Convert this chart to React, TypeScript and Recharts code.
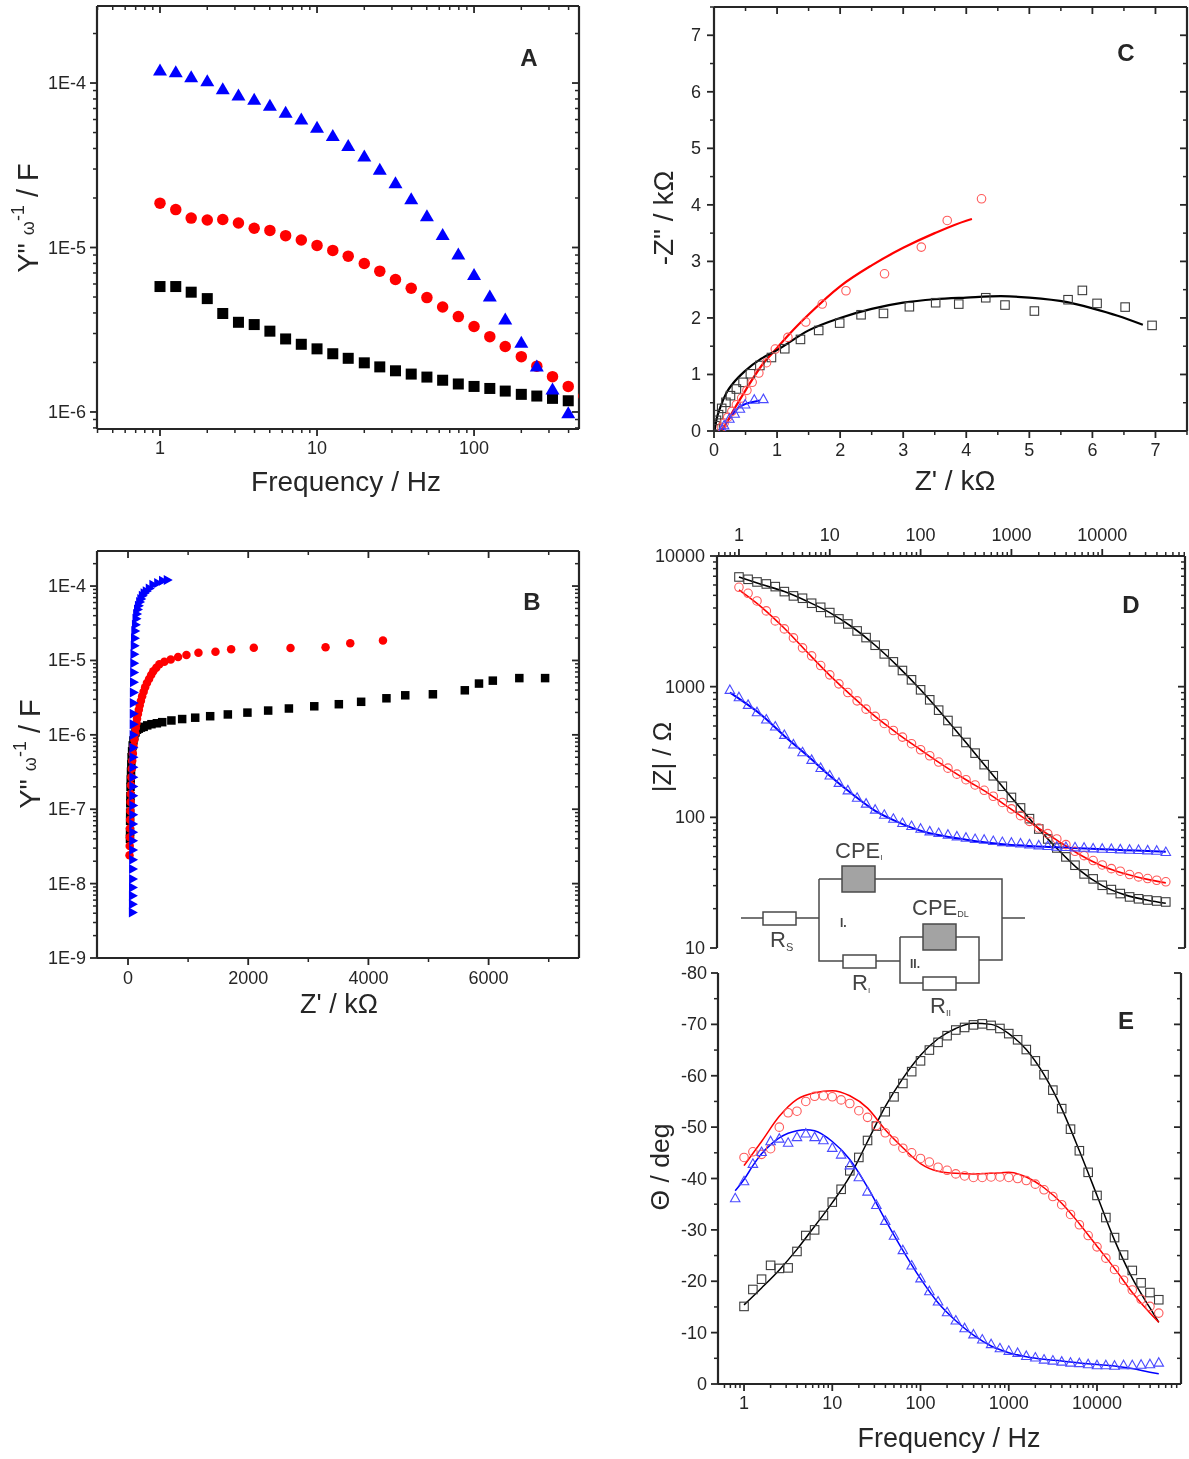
import React from 'react';
import { ComposedChart, Scatter, Line, XAxis, YAxis } from 'recharts';

const FONT = '"Liberation Sans", Arial, sans-serif';
const INK = '#262626';
const BLUE = '#0000ff';
const RED = '#ff0000';
const OPEN_BLACK = '#3c3c3c';
const OPEN_RED = '#ff5a5a';
const OPEN_BLUE = '#4a4aff';

// frequency grids (Hz)
const freqs = [1, 1.26, 1.58, 2, 2.51, 3.16, 3.98, 5.01, 6.31, 7.94, 10, 12.6, 15.8, 20, 25.1, 31.6, 39.8, 50.1, 63.1, 79.4, 100, 126, 158, 200, 251, 316, 398, 501, 631, 794, 1000, 1260, 1580, 2000, 2510, 3160, 3980, 5010, 6310, 7940, 10000, 12600, 15800, 20000, 25100, 31600, 39800, 50100];
const blueLeadFreq = [0.794];
const fitFreqD = [1, 1.78, 3.16, 5.62, 10, 17.8, 31.6, 56.2, 100, 178, 316, 562, 1000, 1780, 3160, 5620, 10000, 17800, 31600, 50100];
const fitFreqE = [1, 1.58, 2.51, 3.98, 6.31, 10, 15.8, 25.1, 39.8, 63.1, 100, 158, 251, 398, 631, 1000, 1580, 2510, 3980, 6310, 10000, 15800, 25100, 39800, 50100];
const fitFreqEBlue = [0.794, 1, 1.26, 1.58, 2, 2.51, 3.16, 3.98, 5.01, 6.31, 10, 15.8, 25.1, 39.8, 63.1, 100, 158, 251, 398, 631, 1000, 1580, 2510, 3980, 6310, 10000, 15800, 25100, 39800, 50100];

// Panel A: Y''/omega versus frequency
const aBlackY = [5.79e-6, 5.79e-6, 5.35e-6, 4.89e-6, 3.97e-6, 3.51e-6, 3.4e-6, 3.1e-6, 2.78e-6, 2.58e-6, 2.42e-6, 2.26e-6, 2.12e-6, 1.99e-6, 1.88e-6, 1.78e-6, 1.7e-6, 1.63e-6, 1.56e-6, 1.48e-6, 1.43e-6, 1.39e-6, 1.34e-6, 1.28e-6, 1.25e-6, 1.21e-6, 1.17e-6];
const aRedY = [1.86e-5, 1.7e-5, 1.51e-5, 1.47e-5, 1.48e-5, 1.41e-5, 1.31e-5, 1.27e-5, 1.18e-5, 1.11e-5, 1.03e-5, 9.6e-6, 8.86e-6, 7.99e-6, 7.18e-6, 6.39e-6, 5.65e-6, 4.96e-6, 4.35e-6, 3.8e-6, 3.31e-6, 2.87e-6, 2.5e-6, 2.17e-6, 1.9e-6, 1.64e-6, 1.43e-6, 1.25e-6];
const aBlueY = [1.21e-4, 1.18e-4, 1.1e-4, 1.04e-4, 9.28e-5, 8.53e-5, 8.03e-5, 7.38e-5, 6.69e-5, 6.09e-5, 5.42e-5, 4.83e-5, 4.2e-5, 3.63e-5, 3.01e-5, 2.49e-5, 1.99e-5, 1.57e-5, 1.21e-5, 9.2e-6, 6.9e-6, 5.1e-6, 3.7e-6, 2.67e-6, 1.92e-6, 1.39e-6, 9.95e-7];

// Panel B: Y''/omega versus Z'
const bBlackZ = [6940, 6511, 6070, 5840, 5604, 5073, 4613, 4300, 3879, 3508, 3099, 2677, 2332, 1987, 1661, 1367, 1118, 901, 722, 569, 480, 390, 320, 260, 215, 180, 150, 125, 105, 90, 78, 68, 60, 55, 50, 45, 42, 40, 38, 36, 35, 34, 33];
const bBlackTail = [1.08e-6, 9.6e-7, 8.4e-7, 7.2e-7, 6e-7, 5e-7, 4e-7, 3.2e-7, 2.5e-7, 2e-7, 1.5e-7, 1.2e-7, 9e-8, 7e-8, 5e-8, 4e-8];
const bRedZ = [4242, 3698, 3287, 2704, 2093, 1716, 1455, 1172, 972, 833, 711, 605, 522, 470, 420, 385, 350, 315, 285, 260, 235, 215, 195, 180, 165, 150, 140, 130, 120, 105, 90, 80, 70, 62, 55, 50, 45, 42, 38, 35, 32, 30, 28, 25];
const bRedTail = [1.05e-6, 8.6e-7, 7e-7, 5.6e-7, 4.5e-7, 3.5e-7, 2.7e-7, 2.1e-7, 1.6e-7, 1.25e-7, 9.5e-8, 7.2e-8, 5.5e-8, 4.2e-8, 3.2e-8, 2.4e-8];
const bBlueZ = [670, 590, 510, 430, 370, 320, 285, 255, 230, 210, 190, 175, 160, 150, 140, 130, 125, 120, 115, 112, 110, 108, 106, 105, 104, 103, 102, 100, 100, 99, 98, 98, 97, 96, 96, 95, 95, 94, 93, 93, 92, 92, 91, 90, 90, 89];
const bBlueTail = [6.7e-7, 5e-7, 3.67e-7, 2.69e-7, 2.02e-7, 1.52e-7, 1.12e-7, 8.46e-8, 6.34e-8, 4.89e-8, 3.78e-8, 2.83e-8, 2.09e-8, 1.57e-8, 1.15e-8, 8.87e-9, 6.85e-9, 5.29e-9, 4.08e-9];

// Panel C: Nyquist (kOhm)
const cBlackX = [6.946, 6.519, 6.074, 5.841, 5.614, 5.08, 4.614, 4.309, 3.881, 3.515, 3.098, 2.687, 2.332, 1.993, 1.66, 1.371, 1.122, 0.911, 0.727, 0.577, 0.461, 0.355, 0.261, 0.189, 0.122, 0.072, 0.039, 0.017];
const cBlackY = [1.868, 2.192, 2.257, 2.487, 2.322, 2.122, 2.228, 2.357, 2.245, 2.269, 2.198, 2.08, 2.056, 1.909, 1.779, 1.62, 1.455, 1.3, 1.159, 1.012, 0.861, 0.743, 0.625, 0.507, 0.4, 0.289, 0.189, 0.094];
const cRedX = [4.242, 3.698, 3.287, 2.704, 2.093, 1.716, 1.455, 1.172, 0.972, 0.833, 0.711, 0.605, 0.522, 0.439, 0.355, 0.283, 0.217, 0.161, 0.117];
const cRedY = [4.107, 3.724, 3.253, 2.781, 2.481, 2.246, 1.927, 1.656, 1.45, 1.208, 1.025, 0.861, 0.719, 0.583, 0.465, 0.348, 0.241, 0.141, 0.065];
const cBlueX = [0.783, 0.639, 0.494, 0.411, 0.328, 0.244, 0.161, 0.133];
const cBlueY = [0.577, 0.566, 0.483, 0.407, 0.318, 0.23, 0.112, 0.035];
const cBlackFitX = [0.01, 0.05, 0.1, 0.2, 0.3, 0.5, 0.75, 1, 1.5, 2, 2.5, 3, 3.5, 4, 4.55, 5, 5.6, 6, 6.4, 6.8];
const cBlackFitY = [0.02, 0.25, 0.42, 0.68, 0.84, 1.07, 1.28, 1.43, 1.78, 2.0, 2.16, 2.27, 2.33, 2.36, 2.385, 2.36, 2.28, 2.17, 2.04, 1.88];
const cRedFitX = [0.1, 0.2, 0.3, 0.5, 0.75, 1, 1.2, 1.5, 2, 2.5, 3, 3.5, 4, 4.09];
const cRedFitY = [0, 0.15, 0.35, 0.72, 1.15, 1.47, 1.72, 2.06, 2.56, 2.93, 3.24, 3.5, 3.72, 3.75];
const cBlueFitX = [0.13, 0.2, 0.3, 0.4, 0.5, 0.6, 0.73];
const cBlueFitY = [0, 0.15, 0.3, 0.42, 0.48, 0.51, 0.54];

// Panel D: |Z| (Ohm)
const dBlack = [6910, 6632, 6330, 6110, 5830, 5340, 4950, 4750, 4350, 4050, 3690, 3300, 3020, 2670, 2375, 2075, 1782, 1548, 1329, 1128, 946, 793, 661, 551, 454, 374, 310, 253, 208, 173, 142, 118, 97.7, 81.4, 68.3, 58.3, 49.8, 43, 36.9, 33.8, 30.2, 28, 26.1, 24.6, 23.8, 23.3, 22.9, 22.5];
const dRed = [5760, 5183, 4530, 3800, 3186, 2767, 2362, 1981, 1721, 1451, 1231, 1051, 902, 779, 673, 592, 523, 462, 411, 366, 329, 296, 265, 238, 214, 194, 177, 161, 145, 130, 116, 103, 93.2, 82.9, 75, 68.3, 61.8, 55, 50.9, 46.7, 43.2, 40.5, 38.7, 36.5, 35, 34, 33, 32.1];
const dBlueLead = [957];
const dBlue = [841, 735, 646, 568, 502, 433, 366, 319, 279, 242, 212, 186, 163, 143, 129, 116, 106, 98.8, 91.6, 86.9, 82.9, 79.1, 76.8, 74.6, 72.4, 70.8, 69.1, 68.3, 66.7, 65.5, 64.8, 64, 62.9, 61.8, 61.1, 60.4, 60, 59.7, 59.3, 58.6, 58.3, 58, 57.6, 57.3, 57, 56.6, 56.3, 55];
const dBlackFit = [6910, 6050, 5340, 4500, 3690, 2850, 2075, 1430, 946, 600, 374, 230, 142, 89, 58, 39.5, 30, 25.5, 23.2, 22];
const dRedFit = [5500, 4050, 2800, 1840, 1220, 840, 592, 436, 329, 250, 194, 152, 115, 87, 67, 52, 42.5, 37, 33.5, 31.5];
const dBlueFitLead = [900];
const dBlueFit = [810, 605, 420, 298, 208, 150, 112, 92, 79, 72, 67.5, 64, 61.5, 60, 59, 58, 57, 56, 55.3, 54.5];

// Panel E: phase (deg)
const eBlack = [-15.1, -18.4, -20.4, -23.1, -22.5, -22.6, -25.8, -28.9, -30, -32.8, -35.4, -37.9, -41.5, -44.1, -47.4, -50.2, -53, -55.9, -58.5, -60.8, -62.9, -65, -66.5, -67.8, -68.9, -69.4, -69.9, -70.1, -69.8, -69.2, -68.2, -67, -65.1, -62.9, -60.2, -57.2, -53.6, -49.6, -45.4, -41.2, -36.7, -32.4, -28.5, -25.1, -22.1, -19.7, -17.8, -16.4];
const eRed = [-44.1, -45.2, -44.7, -45.8, -50, -52.8, -53.1, -55, -56, -56.1, -55.9, -55.3, -54.6, -53.2, -51.9, -50.3, -48.9, -47.3, -45.9, -45, -43.9, -43.2, -42.2, -41.6, -40.9, -40.5, -40.2, -40.2, -40.3, -40.3, -40.2, -40, -39.6, -38.9, -37.8, -36.5, -34.9, -33, -31, -28.9, -26.7, -24.5, -22.3, -20.2, -18.3, -16.5, -15.1, -13.8];
const eBlueLead = [-36.3];
const eBlue = [-39.6, -43, -45.3, -47.4, -47.9, -47.1, -48.2, -48.9, -48.2, -47.6, -46.1, -44.8, -42.7, -40.4, -37.6, -35, -31.9, -29, -26.2, -23.2, -20.7, -18.2, -16.2, -14.1, -12.5, -11, -9.8, -8.8, -7.9, -7.1, -6.6, -6.2, -5.6, -5.3, -4.9, -4.7, -4.5, -4.3, -4.2, -4, -3.8, -3.8, -3.7, -3.8, -3.8, -3.9, -4, -4.3];
const eBlackFit = [-15.4, -18.7, -22.2, -26.2, -30.7, -35.3, -40.4, -47.2, -54, -59.5, -64, -67.2, -69.2, -70.2, -70, -68.2, -65.1, -60.2, -53.6, -45.4, -36.7, -28, -20.6, -14.8, -12];
const eRedFit = [-42.5, -47.2, -52.1, -55.4, -56.7, -57.1, -56.1, -53.7, -49.5, -46, -42.9, -41.4, -41, -40.9, -41, -41.2, -40.3, -38.2, -35.2, -31.2, -26.8, -22.5, -17.8, -13.8, -12];
const eBlueFit = [-37.6, -39.8, -42.5, -44.8, -46.6, -47.9, -48.8, -49.3, -49.5, -49.3, -47.2, -43.7, -38.3, -32, -26, -20.5, -15.8, -12.3, -9.5, -7.4, -6.1, -5.3, -4.8, -4.5, -4.1, -3.8, -3.5, -3, -2.3, -2];

// tick labels
const aXMajor = [1, 10, 100];
const aYMajor = [1e-4, 1e-5, 1e-6];
const aYLabels = ['1E-4', '1E-5', '1E-6'];
const bXMajor = [0, 2000, 4000, 6000];
const bXMinor = [1000, 3000, 5000, 7000];
const bYMajor = [1e-4, 1e-5, 1e-6, 1e-7, 1e-8, 1e-9];
const bYLabels = ['1E-4', '1E-5', '1E-6', '1E-7', '1E-8', '1E-9'];
const cXMajor = [0, 1, 2, 3, 4, 5, 6, 7];
const cXMinor = [0.5, 1.5, 2.5, 3.5, 4.5, 5.5, 6.5, 7.5];
const cYMajor = [0, 1, 2, 3, 4, 5, 6, 7];
const cYMinor = [0.5, 1.5, 2.5, 3.5, 4.5, 5.5, 6.5, 7.5];
const dXMajor = [1, 10, 100, 1000, 10000];
const dYMajor = [10000, 1000, 100, 10];
const eYMajor = [-80, -70, -60, -50, -40, -30, -20, -10, 0];
const eYMinor = [-75, -65, -55, -45, -35, -25, -15, -5];

const zip = (xs: number[], ys: number[]) => xs.map((x, i) => ({ x, y: ys[i] }));

function logTicks(lo: number, hi: number) {
  const out: number[] = [];
  for (let e = Math.floor(Math.log10(lo)); e <= Math.ceil(Math.log10(hi)); e++) {
    for (let m = 1; m <= 9; m++) {
      const v = Number(`${m}e${e}`);
      if (v >= lo && v <= hi) out.push(v);
    }
  }
  return out;
}

type Side = 'left' | 'right' | 'bottom' | 'top' | 'topOut';

function makeTick(side: Side, major: number[], labels: string[] | null, gap: number, fontSize = 18) {
  return (props: any) => {
    const { x, y, payload } = props;
    const idx = major.indexOf(payload.value);
    const isMajor = idx >= 0;
    const len = isMajor ? 7 : 4;
    const label = isMajor && labels ? labels[idx] : null;
    const line = { stroke: INK, strokeWidth: isMajor ? 1.8 : 1.5 };
    const txt = { fontFamily: FONT, fontSize, fill: INK };
    if (side === 'left') {
      return (
        <g>
          <line x1={x - len} x2={x} y1={y} y2={y} {...line} />
          {label && <text x={x - gap} y={y} textAnchor="end" dominantBaseline="central" {...txt}>{label}</text>}
        </g>
      );
    }
    if (side === 'right') return <line x1={x - len} x2={x} y1={y} y2={y} {...line} />;
    if (side === 'top') return <line x1={x} x2={x} y1={y} y2={y + len} {...line} />;
    if (side === 'topOut') {
      return (
        <g>
          <line x1={x} x2={x} y1={y - len} y2={y} {...line} />
          {label && <text x={x} y={y - gap} textAnchor="middle" dominantBaseline="central" {...txt}>{label}</text>}
        </g>
      );
    }
    return (
      <g>
        <line x1={x} x2={x} y1={y} y2={y + len} {...line} />
        {label && <text x={x} y={y + gap} textAnchor="middle" dominantBaseline="central" {...txt}>{label}</text>}
      </g>
    );
  };
}

const PAD = { left: 90, right: 12, top: 40, bottom: 40 };
const AXIS_SIZE = 1;

function Panel(p: any) {
  const { box, xDomain, yDomain, xLog, yLog, xTicks, yTicks, xMajor, xLabels, yMajor, yLabels, gapLeft, gapX, topMode, hasBottom, reversed, children } = p;
  const axisLine = { stroke: INK, strokeWidth: 2.2 };
  const common = { type: 'number' as const, allowDataOverflow: true, interval: 0 as const, tickSize: 0, tickMargin: 0, tickLine: false, axisLine };
  const mainIsTop = !hasBottom;
  const hasTop = mainIsTop || topMode === 'inward';
  const margin = {
    left: PAD.left - AXIS_SIZE,
    right: PAD.right - AXIS_SIZE,
    top: PAD.top - (hasTop ? AXIS_SIZE : 0),
    bottom: PAD.bottom - (hasBottom ? AXIS_SIZE : 0),
  };
  return (
    <div style={{ position: 'absolute', left: box.l - PAD.left, top: box.t - PAD.top }}>
      <ComposedChart width={box.r - box.l + PAD.left + PAD.right} height={box.b - box.t + PAD.top + PAD.bottom} margin={margin}>
        <XAxis xAxisId={0} dataKey="x" orientation={mainIsTop ? 'top' : 'bottom'} height={AXIS_SIZE} domain={xDomain} scale={xLog ? 'log' : 'linear'} ticks={xTicks}
          tick={makeTick(mainIsTop ? 'topOut' : 'bottom', xMajor, xLabels, gapX)} {...common} />
        {hasBottom && topMode === 'inward' && (
          <XAxis xAxisId="mirror" dataKey="x" orientation="top" height={AXIS_SIZE} domain={xDomain} scale={xLog ? 'log' : 'linear'} ticks={xTicks}
            tick={makeTick('top', xMajor, null, 0)} {...common} />
        )}
        <YAxis yAxisId={0} dataKey="y" orientation="left" width={AXIS_SIZE} domain={yDomain} scale={yLog ? 'log' : 'linear'} ticks={yTicks} reversed={reversed}
          tick={makeTick('left', yMajor, yLabels, gapLeft)} {...common} />
        <YAxis yAxisId="mirror" dataKey="y" orientation="right" width={AXIS_SIZE} domain={yDomain} scale={yLog ? 'log' : 'linear'} ticks={yTicks} reversed={reversed}
          tick={makeTick('right', yMajor, null, 0)} {...common} />
        {children}
      </ComposedChart>
    </div>
  );
}

const square = (s: number, fill: string, stroke = 'none') => (q: any) => (
  <rect x={q.cx - s / 2} y={q.cy - s / 2} width={s} height={s} fill={fill} stroke={stroke} strokeWidth={stroke === 'none' ? 0 : 1.1} />
);
const circle = (d: number, fill: string, stroke = 'none') => (q: any) => (
  <circle cx={q.cx} cy={q.cy} r={d / 2} fill={fill} stroke={stroke} strokeWidth={stroke === 'none' ? 0 : 1.1} />
);
const triUp = (w: number, h: number, fill: string, stroke = 'none') => (q: any) => (
  <path d={`M${q.cx} ${q.cy - h / 2}L${q.cx + w / 2} ${q.cy + h / 2}L${q.cx - w / 2} ${q.cy + h / 2}Z`} fill={fill} stroke={stroke} strokeWidth={stroke === 'none' ? 0 : 1.1} />
);
const triRight = (w: number, h: number, fill: string) => (q: any) => (
  <path d={`M${q.cx + w / 2} ${q.cy}L${q.cx - w / 2} ${q.cy + h / 2}L${q.cx - w / 2} ${q.cy - h / 2}Z`} fill={fill} />
);

const marks = (data: any[], shape: any, name: string) => (
  <Scatter key={name} name={name} data={data} shape={shape} isAnimationActive={false} />
);
const fit = (data: any[], color: string, width: number, name: string) => (
  <Line key={name} name={name} data={data} dataKey="y" type="monotone" dot={false} activeDot={false} stroke={color} strokeWidth={width} isAnimationActive={false} />
);

function Title({ x, y, size, rotate, children, weight }: any) {
  return (
    <text x={x} y={y} fontFamily={FONT} fontSize={size} fontWeight={weight} fill={INK} textAnchor="middle" dominantBaseline="central"
      transform={rotate ? `rotate(-90 ${x} ${y})` : undefined}>
      {children}
    </text>
  );
}

function YOmega({ x, y }: { x: number; y: number }) {
  return (
    <text x={x} y={y} fontFamily={FONT} fontSize={29} fill={INK} textAnchor="middle" dominantBaseline="central" transform={`rotate(-90 ${x} ${y})`}>
      Y" <tspan fontSize={18}>ω</tspan><tspan fontSize={18} dy={-10}>-1</tspan><tspan dy={10}> / F</tspan>
    </text>
  );
}

function Circuit() {
  const w = { stroke: '#4a4a4a', strokeWidth: 1.5, fill: 'none' };
  const rect = { stroke: '#4a4a4a', strokeWidth: 1.5 };
  const t = { fontFamily: FONT, fill: '#444' };
  return (
    <g>
      <path d="M741 918H763M796 918H819M819 879V961H843M819 879H842M875 879H1002V960H979M876 961H900M900 937V983H923M900 937H923M956 937H979V983H956M1002 918H1025" {...w} />
      <rect x={763} y={912} width={33} height={13} fill="#fff" {...rect} />
      <rect x={842} y={866} width={33} height={26} fill="#a3a3a3" {...rect} />
      <rect x={843} y={955} width={33} height={13} fill="#fff" {...rect} />
      <rect x={923} y={924} width={33} height={26} fill="#a3a3a3" {...rect} />
      <rect x={923} y={977} width={33} height={13} fill="#fff" {...rect} />
      <text x={835} y={858} fontSize={22} {...t}>CPE<tspan fontSize={8} dy={2}>I</tspan></text>
      <text x={912} y={915} fontSize={22} {...t}>CPE<tspan fontSize={9} dy={2}>DL</tspan></text>
      <text x={770} y={947} fontSize={22} {...t}>R<tspan fontSize={11} dy={4}>S</tspan></text>
      <text x={852} y={990} fontSize={22} {...t}>R<tspan fontSize={8} dy={3}>I</tspan></text>
      <text x={930} y={1013} fontSize={22} {...t}>R<tspan fontSize={9} dy={3}>II</tspan></text>
      <text x={840} y={927} fontSize={12} fontWeight="bold" {...t}>I.</text>
      <text x={910} y={968} fontSize={12} fontWeight="bold" {...t}>II.</text>
    </g>
  );
}

export default function App() {
  const mS = square(8.5, 'none', OPEN_BLACK);
  const mC = circle(8.5, 'none', OPEN_RED);
  const mT = triUp(9.5, 8.5, 'none', OPEN_BLUE);
  return (
    <div style={{ position: 'absolute', left: 0, top: 0, width: 1189, height: 1459, background: '#fff', overflow: 'hidden', filter: 'blur(0.5px)' }}>
      {/* A */}
      <Panel box={{ l: 97, t: 6, r: 579, b: 429 }} xDomain={[0.397, 466]} yDomain={[7.88e-7, 2.94e-4]} xLog yLog
        xTicks={logTicks(0.397, 466)} yTicks={logTicks(7.88e-7, 2.94e-4)} xMajor={aXMajor} xLabels={aXMajor.map(String)} yMajor={aYMajor} yLabels={aYLabels}
        gapLeft={11} gapX={19} topMode="inward" hasBottom>
        {marks(zip(freqs, aBlackY), square(11, '#000'), 'a-black')}
        {marks(zip(freqs, aRedY), circle(11.5, RED), 'a-red')}
        {marks(zip(freqs, aBlueY), triUp(14, 12, BLUE), 'a-blue')}
      </Panel>
      {/* B */}
      <Panel box={{ l: 97, t: 551, r: 579, b: 958 }} xDomain={[-516, 7504]} yDomain={[1e-9, 2.96e-4]} yLog
        xTicks={[...bXMajor, ...bXMinor]} yTicks={logTicks(1e-9, 2.96e-4)} xMajor={bXMajor} xLabels={bXMajor.map(String)} yMajor={bYMajor} yLabels={bYLabels}
        gapLeft={11} gapX={20} topMode="inward" hasBottom>
        {marks(zip(bBlackZ, [...aBlackY, ...bBlackTail]), square(8.5, '#000'), 'b-black')}
        {marks(zip(bRedZ, [...aRedY, ...bRedTail]), circle(8.5, RED), 'b-red')}
        {marks(zip(bBlueZ, [...aBlueY, ...bBlueTail]), triRight(9, 10, BLUE), 'b-blue')}
      </Panel>
      {/* C */}
      <Panel box={{ l: 714, t: 7, r: 1187, b: 431 }} xDomain={[0, 7.5]} yDomain={[0, 7.5]}
        xTicks={[...cXMajor, ...cXMinor]} yTicks={[...cYMajor, ...cYMinor]} xMajor={cXMajor} xLabels={cXMajor.map(String)} yMajor={cYMajor} yLabels={cYMajor.map(String)}
        gapLeft={13} gapX={19} topMode="inward" hasBottom>
        {marks(zip(cBlackX, cBlackY), mS, 'c-black')}
        {marks(zip(cRedX, cRedY), mC, 'c-red')}
        {marks(zip(cBlueX, cBlueY), mT, 'c-blue')}
        {fit(zip(cBlueFitX, cBlueFitY), BLUE, 2, 'c-blue-fit')}
        {fit(zip(cRedFitX, cRedFitY), RED, 2.2, 'c-red-fit')}
        {fit(zip(cBlackFitX, cBlackFitY), '#000', 2.2, 'c-black-fit')}
      </Panel>
      {/* D */}
      <Panel box={{ l: 717, t: 556, r: 1185, b: 948 }} xDomain={[0.573, 81500]} yDomain={[10, 10000]} xLog yLog
        xTicks={logTicks(0.573, 81500)} yTicks={logTicks(10, 10000)} xMajor={dXMajor} xLabels={dXMajor.map(String)} yMajor={dYMajor} yLabels={dYMajor.map(String)}
        gapLeft={12} gapX={21} topMode="none" hasBottom={false}>
        {marks(zip(freqs, dBlack), mS, 'd-black')}
        {marks(zip(freqs, dRed), mC, 'd-red')}
        {marks(zip([...blueLeadFreq, ...freqs], [...dBlueLead, ...dBlue]), mT, 'd-blue')}
        {fit(zip(fitFreqD, dBlackFit), '#000', 1.6, 'd-black-fit')}
        {fit(zip(fitFreqD, dRedFit), RED, 1.6, 'd-red-fit')}
        {fit(zip([...blueLeadFreq, ...fitFreqD], [...dBlueFitLead, ...dBlueFit]), BLUE, 2, 'd-blue-fit')}
      </Panel>
      {/* E */}
      <Panel box={{ l: 718, t: 973, r: 1181, b: 1384 }} xDomain={[0.507, 89500]} yDomain={[-80, 0]} xLog reversed
        xTicks={logTicks(0.507, 89500)} yTicks={[...eYMajor, ...eYMinor]} xMajor={dXMajor} xLabels={dXMajor.map(String)} yMajor={eYMajor} yLabels={eYMajor.map(String)}
        gapLeft={11} gapX={19} topMode="none" hasBottom>
        {marks(zip(freqs, eBlack), mS, 'e-black')}
        {marks(zip(freqs, eRed), mC, 'e-red')}
        {marks(zip([...blueLeadFreq, ...freqs], [...eBlueLead, ...eBlue]), mT, 'e-blue')}
        {fit(zip(fitFreqE, eBlackFit), '#000', 1.5, 'e-black-fit')}
        {fit(zip(fitFreqE, eRedFit), RED, 1.5, 'e-red-fit')}
        {fit(zip(fitFreqEBlue, eBlueFit), BLUE, 1.5, 'e-blue-fit')}
      </Panel>
      <svg width={1189} height={1459} style={{ position: 'absolute', left: 0, top: 0, pointerEvents: 'none' }}>
        <Title x={346} y={481} size={28}>Frequency / Hz</Title>
        <Title x={339} y={1004} size={27}>Z' / kΩ</Title>
        <Title x={955} y={480} size={28}>Z' / kΩ</Title>
        <Title x={949} y={1438} size={27}>Frequency / Hz</Title>
        <YOmega x={28} y={218} />
        <YOmega x={30} y={754} />
        <Title x={663} y={218} size={28} rotate>-Z" / kΩ</Title>
        <Title x={662} y={757} size={26} rotate>|Z| / Ω</Title>
        <Title x={660} y={1167} size={26.5} rotate>Θ / deg</Title>
        <Title x={529} y={57} size={24} weight="bold">A</Title>
        <Title x={532} y={601} size={24} weight="bold">B</Title>
        <Title x={1126} y={52} size={24} weight="bold">C</Title>
        <Title x={1131} y={604} size={24} weight="bold">D</Title>
        <Title x={1126} y={1020} size={24} weight="bold">E</Title>
        <Circuit />
      </svg>
    </div>
  );
}
